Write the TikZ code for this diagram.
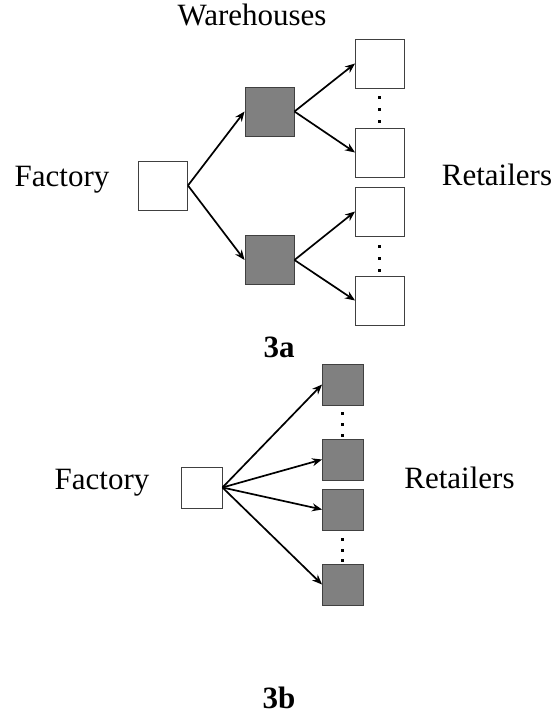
\documentclass[tikz,border=0pt]{standalone}
\usepackage{fontspec}
\setmainfont{Liberation Serif}
\usetikzlibrary{arrows.meta}
\tikzset{
  box/.style={draw=black!75, line width=0.9pt, minimum width=49pt, minimum height=49pt, inner sep=0pt, fill=white},
  sbox/.style={box, minimum width=41pt, minimum height=41pt},
  dark/.style={fill=black!50},
  lbl/.style={font=\fontsize{31}{36}\selectfont, inner sep=0pt, anchor=base},
  blbl/.style={lbl, font=\fontsize{31}{36}\selectfont\bfseries},
  conn/.style={line width=1.7pt, -{Stealth[length=10pt,width=8pt]}},
  dotsq/.style={fill=black}
}
\begin{document}
\begin{tikzpicture}[x=1pt,y=-1pt]
\useasboundingbox (0,0) rectangle (558,719);
% ---- 3a ----
\node[box] (fa) at (163,185.5) {};
\node[box,dark] (w1) at (269.5,111.5) {};
\node[box,dark] (w2) at (269.5,260) {};
\node[box] (r1) at (380,63.5) {};
\node[box] (r2) at (380,152.5) {};
\node[box] (r3) at (380,211.5) {};
\node[box] (r4) at (380,300.5) {};
\draw[conn] (fa.east) -- (w1.west);
\draw[conn] (fa.east) -- (w2.west);
\draw[conn] (w1.east) -- (r1.west);
\draw[conn] (w1.east) -- (r2.west);
\draw[conn] (w2.east) -- (r3.west);
\draw[conn] (w2.east) -- (r4.west);
\foreach \y in {98,110,122,246,258,270}
  \fill[dotsq] (377.5,\y-1.5) rectangle (380.5,\y+1.5);
\node[lbl] (lw) at (252,26) {Warehouses};
\node[lbl] (lf) at (62,187) {Factory};
\node[lbl] (lr) at (497,186) {Retailers};
\node[blbl] (l3a) at (279,357) {3a};
% ---- 3b ----
\node[sbox] (fb) at (201.5,487.5) {};
\node[sbox,dark] (b1) at (343,384.5) {};
\node[sbox,dark] (b2) at (343,459.5) {};
\node[sbox,dark] (b3) at (343,509.5) {};
\node[sbox,dark] (b4) at (343,584.5) {};
\draw[conn] (fb.east) -- (b1.west);
\draw[conn] (fb.east) -- (b2.west);
\draw[conn] (fb.east) -- (b3.west);
\draw[conn] (fb.east) -- (b4.west);
\foreach \y in {413,424,435,539,550,560}
  \fill[dotsq] (340.5,\y-1.5) rectangle (343.5,\y+1.5);
\node[lbl] (lf2) at (102,489) {Factory};
\node[lbl] (lr2) at (459.5,488) {Retailers};
\node[blbl] (l3b) at (279,708) {3b};
\end{tikzpicture}
\end{document}
